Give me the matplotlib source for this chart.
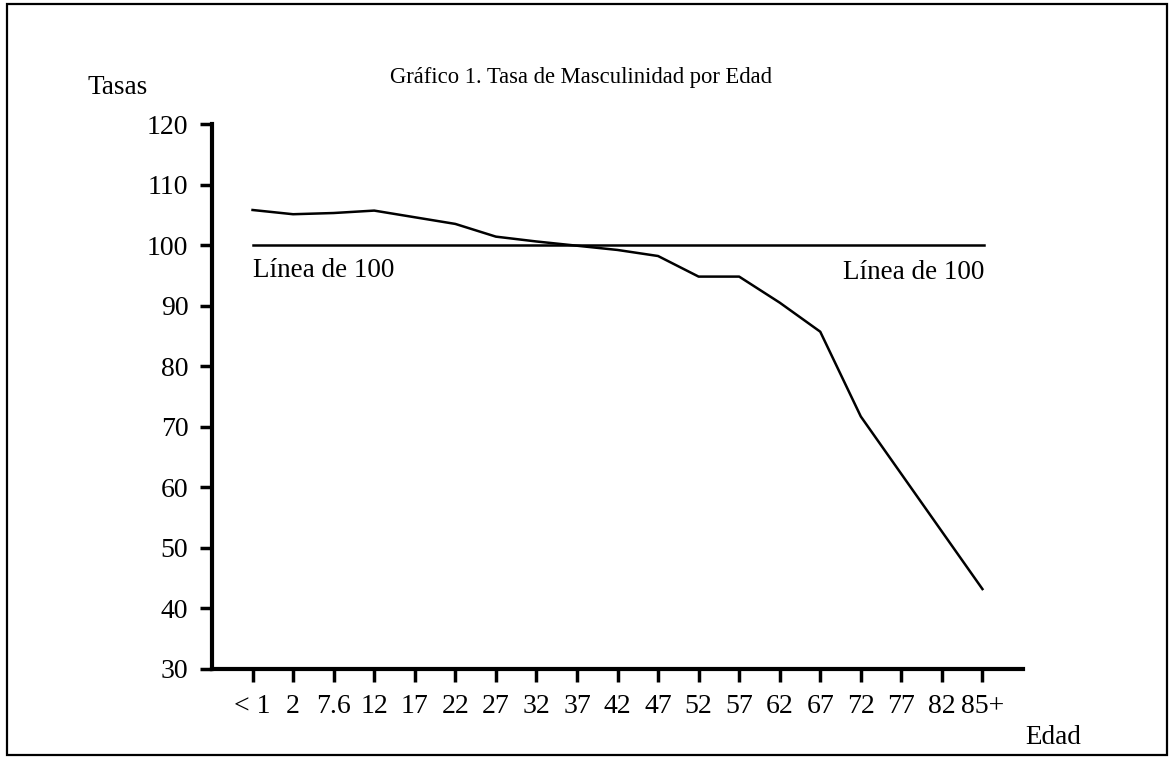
import matplotlib
matplotlib.use("Agg")
import matplotlib.pyplot as plt
from matplotlib.patches import Rectangle

# Data
edades = ["< 1", "2", "7.6", "12", "17", "22", "27", "32", "37", "42",
          "47", "52", "57", "62", "67", "72", "77", "82", "85+"]
tasas = [105.8, 105.1, 105.3, 105.7, 104.6, 103.5, 101.4, 100.6, 99.9, 99.2,
         98.2, 94.8, 94.8, 90.5, 85.7, 71.7, 62.2, 52.7, 43.2]
linea_100 = [100] * len(edades)
yticks = [30, 40, 50, 60, 70, 80, 90, 100, 110, 120]

W, H = 1175, 759
plt.rcParams['font.family'] = ['Liberation Serif', 'DejaVu Serif']
fig = plt.figure(figsize=(W / 100, H / 100), dpi=100)
fig.patch.set_facecolor('white')

def fx(px):
    return px / W

def fy(py):
    return 1 - py / H

# outer frame
fig.patches.append(Rectangle((fx(7), fy(755)), fx(1167) - fx(7), fy(4) - fy(755),
                             transform=fig.transFigure, fill=False,
                             edgecolor='black', linewidth=1.6))

ax = fig.add_axes([fx(212), fy(669), fx(1023) - fx(212), fy(124) - fy(669)])
xs = list(range(1, len(edades) + 1))
ax.plot(xs, tasas, color='black', linewidth=1.8)
ax.plot([xs[0], xs[-1] + 0.05], linea_100[:1] * 2, color='black', linewidth=1.8)

ax.set_xlim(0, 20)
ax.set_ylim(30, 120)
ax.set_xticks(xs)
ax.set_xticklabels(edades, fontsize=20)
ax.set_yticks(yticks)
ax.set_yticklabels([str(v) for v in yticks], fontsize=20)

for s in ['top', 'right']:
    ax.spines[s].set_visible(False)
for s in ['left', 'bottom']:
    ax.spines[s].set_linewidth(3)
ax.tick_params(axis='both', direction='out', length=9, width=2.5)
ax.tick_params(axis='x', pad=9)
ax.tick_params(axis='y', pad=8)

ax.text(1, 97.8, "Línea de 100", fontsize=19.5, ha='left', va='top')
ax.text(19.05, 97.5, "Línea de 100", fontsize=19.5, ha='right', va='top')

fig.text(fx(581), fy(77), "Gráfico 1. Tasa de Masculinidad por Edad",
         fontsize=16.3, ha='center', va='center')
fig.text(fx(88), fy(88), "Tasas", fontsize=19.5, ha='left', va='center')
fig.text(fx(1025), fy(738), "Edad", fontsize=19.5, ha='left', va='center')

fig.savefig("out.png", dpi=100)
